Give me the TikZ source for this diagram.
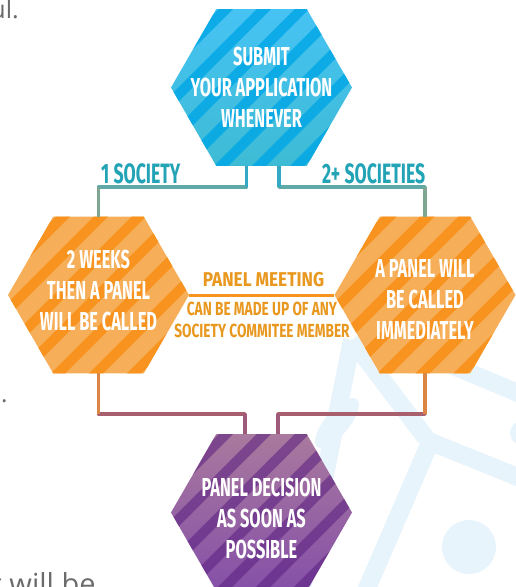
\documentclass[tikz,border=0pt]{standalone}
\usepackage{fontspec}
\usepackage{tikz}
\usetikzlibrary{shapes.geometric}

\newfontfamily\bebas{Fira Sans}[FakeStretch=0.63]
\newfontfamily\bebasnote{Fira Sans}[FakeStretch=0.72]
\newfontfamily\bebaswide{Fira Sans}[FakeStretch=0.86]
\newfontfamily\bodyfont{Open Sans}

\definecolor{skyA}{HTML}{46C3F3}
\definecolor{skyB}{HTML}{3EBBD4}
\definecolor{skyStripe}{HTML}{00A6E6}
\definecolor{orangeA}{HTML}{F6AE58}
\definecolor{orangeStripe}{HTML}{F7931E}
\definecolor{plumA}{HTML}{A9799E}
\definecolor{plumM}{HTML}{8B5DA9}
\definecolor{plumB}{HTML}{8550A8}
\definecolor{plumStripe}{HTML}{5A1E80}
\definecolor{tealA}{HTML}{34A9C3}
\definecolor{tealB}{HTML}{5FA9A8}
\definecolor{tealC}{HTML}{7FA691}
\definecolor{rustA}{HTML}{DC8646}
\definecolor{mauveB}{HTML}{A8606E}
\definecolor{mauveC}{HTML}{9E5A7A}
\definecolor{labelTeal}{HTML}{22A3B6}
\definecolor{labelOrange}{HTML}{E8981F}
\definecolor{markBlue}{HTML}{E8F4FB}
\definecolor{pageGray}{HTML}{6B6B6B}

\tikzset{
  hexagon/.style={regular polygon, regular polygon sides=6, minimum size=181pt,
    inner sep=0pt, outer sep=0pt},
  stripes/.style={path picture={
      \foreach \k in {-7,...,7}
        \draw[#1, line width=10pt]
          ([xshift=\k*38pt-130pt, yshift=-130pt]path picture bounding box.center) -- ++(260pt,260pt);
    }},
  hextext/.style={text=white, align=center, inner sep=0pt,
    font=\bebas\bfseries\fontsize{26}{31}\selectfont},
  splitlabel/.style={text=labelTeal, inner sep=0pt,
    font=\bebas\bfseries\fontsize{28}{30}\selectfont},
  panelhead/.style={text=labelOrange, inner sep=0pt,
    font=\bebaswide\bfseries\fontsize{20}{22}\selectfont},
  panelnote/.style={text=labelOrange, align=center, inner sep=0pt,
    font=\bebasnote\bfseries\fontsize{19}{22}\selectfont},
  pagetext/.style={text=pageGray, inner sep=0pt},
  link/.style={draw=#1, line width=3.6pt, line join=round},
}

\begin{document}
\begin{tikzpicture}[x=1pt,y=-1pt]
\useasboundingbox (0,0) rectangle (516,587);
\fill[white] (0,0) rectangle (516,587);

% faint logo in the back
\begin{scope}[markBlue, line width=18pt]
\draw (300,600) -- (352,340);
\draw (352,340) -- (426,438);
\draw (362,600) -- (432,438);
\draw (426,440) -- (530,482);
\draw (420,352) -- (530,398);
\fill[shift={(337,423)}, rotate=50] (0,0) ellipse (31pt and 12pt);
\fill (469,547) circle (27pt);
\fill (522,433) circle (12pt);
\end{scope}

% bits of the page text round it
\node[pagetext, font=\bodyfont\fontsize{25}{28}\selectfont, anchor=base east] (pagetop) at (19,18) {ul.};
\node[pagetext, font=\bodyfont\fontsize{24}{28}\selectfont, anchor=base west] (pagemid) at (1,402) {.};
\node[pagetext, font=\bodyfont\fontsize{29}{32}\selectfont, anchor=base west] (pagelow) at (-8.5,594) {t will be};

% hexagons
\node[hexagon, top color=skyA, bottom color=skyB, stripes={skyStripe,opacity=.8}] (submit) at (261.5,87.5) {};
\node[hexagon, fill=orangeA, stripes=orangeStripe] (weeks) at (98.5,295) {};
\node[hexagon, fill=orangeA, stripes=orangeStripe] (immediate) at (425,295) {};
\node[hexagon, top color=plumA, middle color=plumM, bottom color=plumB, stripes={plumStripe,opacity=.55}] (decision) at (261.5,512.5) {};

\node[hextext] (submittxt) at (261.5,87) {SUBMIT\\YOUR APPLICATION\\WHENEVER};
\node[hextext] (weekstxt) at (98.5,290) {2 WEEKS\\THEN A PANEL\\WILL BE CALLED};
\node[hextext] (immediatetxt) at (425,299) {A PANEL WILL\\BE CALLED\\IMMEDIATELY};
\node[hextext] (decisiontxt) at (261.5,518) {PANEL DECISION\\AS SOON AS\\POSSIBLE};

% split after submitting
\coordinate (forkL) at (246.5,187);
\coordinate (cornerL) at (98.5,187);
\coordinate (forkR) at (279,187);
\coordinate (cornerR) at (425,187);
\draw[link=tealB] ([xshift=-15pt]submit.south) -- (forkL) -- (cornerL) -- (weeks.north);
\draw[link=tealA] ([xshift=-15pt]submit.south) -- (forkL);
\draw[link=tealC] (cornerL) -- (weeks.north);
\draw[link=tealB] ([xshift=17.5pt]submit.south) -- (forkR) -- (cornerR) -- (immediate.north);
\draw[link=tealA] ([xshift=17.5pt]submit.south) -- (forkR);
\draw[link=tealC] (cornerR) -- (immediate.north);

\node[splitlabel, anchor=base west] (onesoc) at (101,183) {1 SOCIETY};
\node[splitlabel, anchor=base east] (moresoc) at (425.5,183) {2+ SOCIETIES};

% panel meeting between the two
\draw[orangeStripe, line width=3pt] (weeks.east) -- (immediate.west);
\node[panelhead] (meeting) at (263.5,280) {PANEL MEETING};
\node[panelnote] (meetingnote) at (262,319.5) {CAN BE MADE UP OF ANY\\SOCIETY COMMITEE MEMBER};

% both go to the decision
\coordinate (dropL) at (98.5,414);
\coordinate (joinL) at (245,414);
\coordinate (dropR) at (425,414);
\coordinate (joinR) at (278,414);
\draw[link=mauveB] (weeks.south) -- (dropL) -- (joinL) -- ([xshift=-16.5pt]decision.north);
\draw[link=rustA] (weeks.south) -- (dropL);
\draw[link=mauveC] (joinL) -- ([xshift=-16.5pt]decision.north);
\draw[link=mauveB] (immediate.south) -- (dropR) -- (joinR) -- ([xshift=16.5pt]decision.north);
\draw[link=rustA] (immediate.south) -- (dropR);
\draw[link=mauveC] (joinR) -- ([xshift=16.5pt]decision.north);
\end{tikzpicture}
\end{document}
